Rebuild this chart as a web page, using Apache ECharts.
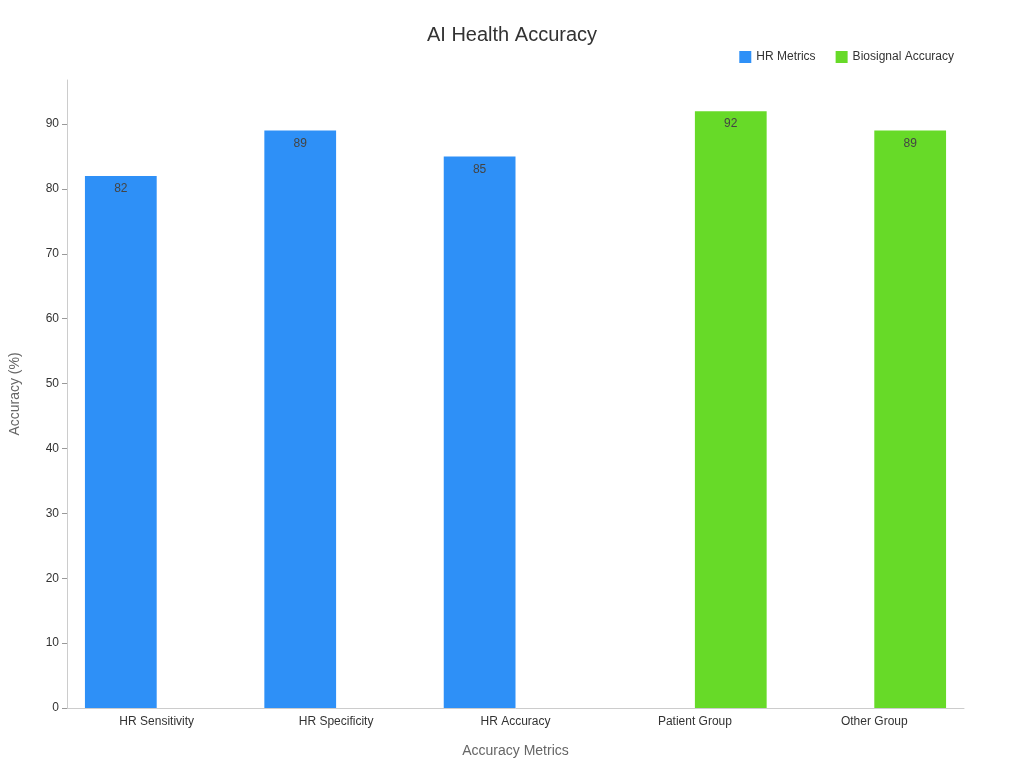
<!DOCTYPE html>
<html>
<head>
<meta charset="utf-8">
<script src="https://cdn.jsdelivr.net/npm/echarts@6/dist/echarts.min.js"></script>
<style>html,body{margin:0;padding:0;background:#fff}#main{width:1024px;height:768px}</style>
</head>
<body>
<div id="main"></div>
<script>
var categories = ['HR Sensitivity', 'HR Specificity', 'HR Accuracy', 'Patient Group', 'Other Group'];
var hrMetrics = [82, 89, 85, null, null];
var biosignal = [null, null, null, 92, 89];

var chart = echarts.init(document.getElementById('main'));
var labelStyle = { show: true, position: 'insideTop', color: '#444', fontSize: 12, offset: [0, 2] };
chart.setOption({
    title: { text: 'AI Health Accuracy', left: 'center', top: 20, textStyle: { fontSize: 20, fontWeight: 'normal', color: '#333' } },
    legend: { right: 65, top: 46, itemWidth: 12, itemHeight: 12, icon: 'rect', textStyle: { fontSize: 12, color: '#333' }, itemGap: 20, data: ['HR Metrics', 'Biosignal Accuracy'] },
    grid: { left: 59, right: 60, top: 80, bottom: 60 },
    xAxis: {
        type: 'category', data: categories,
        name: 'Accuracy Metrics', nameLocation: 'middle', nameGap: 36,
        nameTextStyle: { fontSize: 14, color: '#666' },
        axisLine: { lineStyle: { color: '#ccc' } }, axisTick: { show: false },
        axisLabel: { color: '#333', fontSize: 12 }
    },
    yAxis: {
        type: 'value', min: 0, max: 96.8, interval: 10,
        name: 'Accuracy (%)', nameLocation: 'middle', nameGap: 45,
        nameTextStyle: { fontSize: 14, color: '#666' },
        axisLine: { show: true, lineStyle: { color: '#ccc' } },
        axisTick: { show: true, lineStyle: { color: '#999' } },
        axisLabel: { color: '#333', fontSize: 12, showMaxLabel: false },
        splitLine: { show: false }
    },
    series: [
        { name: 'HR Metrics', type: 'bar', data: hrMetrics, barWidth: '40%', barGap: '0%', itemStyle: { color: '#2e90f7' }, label: labelStyle },
        { name: 'Biosignal Accuracy', type: 'bar', data: biosignal, barWidth: '40%', itemStyle: { color: '#67da28' }, label: labelStyle }
    ]
});
</script>
</body>
</html>
